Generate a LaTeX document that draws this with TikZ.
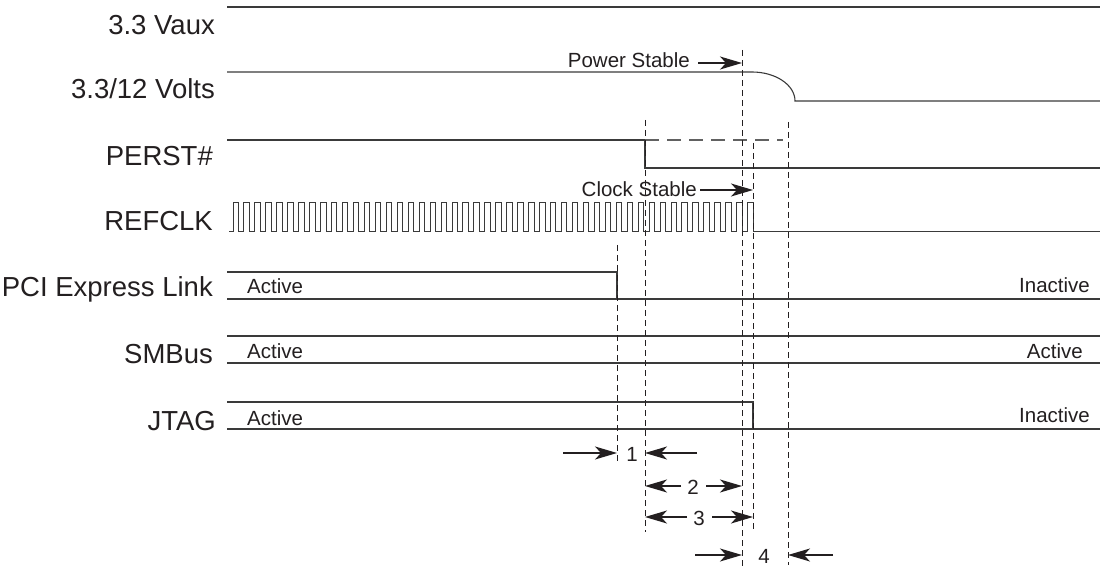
\documentclass[tikz,border=0pt]{standalone}
\usepackage{fontspec}
\setmainfont{Liberation Sans}
\usetikzlibrary{arrows.meta}
\definecolor{ink}{HTML}{231F20}
\definecolor{wire}{HTML}{3A3A3A}
\tikzset{
  sig/.style={draw=wire, line width=1.1pt},
  guide/.style={draw=ink, line width=1pt, dash pattern=on 6pt off 4pt},
  ghost/.style={draw=wire!80, line width=1.1pt, dash pattern=on 14pt off 8pt},
  biglbl/.style={inner sep=0pt, text=ink, font=\fontsize{27.5}{31}\selectfont},
  smalllbl/.style={inner sep=0pt, text=ink, font=\fontsize{20.5}{24}\selectfont},
  tarrow/.style={draw=ink, line width=1.2pt, -{Stealth[length=22pt,width=13pt,inset=6pt]}},
}
\begin{document}
\begin{tikzpicture}[x=1pt,y=-1pt]
\path[use as bounding box] (0,0) rectangle (1100,569);

% time markers
\coordinate (tA) at (617,0);
\coordinate (tB) at (645,0);
\coordinate (tC) at (742,0);
\coordinate (tD) at (753,0);
\coordinate (tE) at (788,0);

% signal labels
\node[biglbl, anchor=base east] (lvaux) at (215,35) {3.3 Vaux};
\node[biglbl, anchor=base east] (lvolts) at (215,99) {3.3/12 Volts};
\node[biglbl, anchor=base east] (lperst) at (213,166) {PERST\#};
\node[biglbl, anchor=base east] (lclk) at (213,231) {REFCLK};
\node[biglbl, anchor=base east] (lpci) at (213,297) {PCI Express Link};
\node[biglbl, anchor=base east] (lsmb) at (213,363) {SMBus};
\node[biglbl, anchor=base east] (ljtag) at (216,430) {JTAG};

% 3.3 Vaux
\path[sig] (227,7) -- (1100,7);
% 3.3/12 Volts
\path[sig] (227,72) -- (752,72) .. controls (775.7,72) and (795,85) .. (795,101) -- (1100,101);
% PERST#
\path[sig] (227,140) -- (645,140) -- (645,168) -- (1100,168);
\path[ghost] (645,140) -- (783,140);
% REFCLK
\path[sig, line width=1pt] (229,232) foreach \k in {0,...,47} { -- ({233+\k*10.95},232) -- ++(0,-29) -- ++(5.4,0) -- ++(0,29) } -- (1100,232);
% PCI Express Link
\path[sig] (227,272) -- (617,272) -- (617,299);
\path[sig] (227,299) -- (1100,299);
% SMBus
\path[sig] (227,336) -- (1100,336);
\path[sig] (227,363) -- (1100,363);
% JTAG
\path[sig] (227,402) -- (753,402) -- (753,429);
\path[sig] (227,429) -- (1100,429);

% state texts
\node[smalllbl, anchor=base west] (apci) at (247,294) {Active};
\node[smalllbl, anchor=base west] (asmb) at (247,358) {Active};
\node[smalllbl, anchor=base west] (ajtag) at (247,425) {Active};
\node[smalllbl, anchor=base east] (ipci) at (1090,293) {Inactive};
\node[smalllbl, anchor=base east] (asmbr) at (1083,358) {Active};
\node[smalllbl, anchor=base east] (ijtag) at (1090,422) {Inactive};

% dashed guides
\path[guide] (tA |- 0,245) -- (tA |- 0,463);
\path[guide] (tB |- 0,120) -- (tB |- 0,532);
\path[guide] (tC |- 0,50) -- (tC |- 0,569);
\path[guide] (tD |- 0,143) -- (tD |- 0,532);
\path[guide] (tE |- 0,122) -- (tE |- 0,565);

% event annotations
\node[smalllbl, anchor=base east] (pstab) at (690,68) {Power Stable};
\coordinate (pstabend) at (tC |- 0,63);
\path[tarrow] (698,63) -- (pstabend);
\node[smalllbl, anchor=base east] (cstab) at (697,197) {Clock Stable};
\coordinate (cstabend) at (tD |- 0,190);
\path[tarrow] (700,190) -- (cstabend);

% interval 1
\node[smalllbl] (n1) at (632,454) {1};
\path[tarrow] (563,453) -- (tA |- 0,453);
\path[tarrow] (697,453) -- (tB |- 0,453);
% interval 2
\node[smalllbl] (n2) at (693,487) {2};
\path[tarrow] (681,486) -- (tB |- 0,486);
\path[tarrow] (706,486) -- (tC |- 0,486);
% interval 3
\node[smalllbl] (n3) at (699,518) {3};
\path[tarrow] (687,517) -- (tB |- 0,517);
\path[tarrow] (712,517) -- (tD |- 0,517);
% interval 4
\node[smalllbl] (n4) at (764,556) {4};
\path[tarrow] (695,555) -- (tC |- 0,555);
\path[tarrow] (833,555) -- (tE |- 0,555);
\end{tikzpicture}
\end{document}
